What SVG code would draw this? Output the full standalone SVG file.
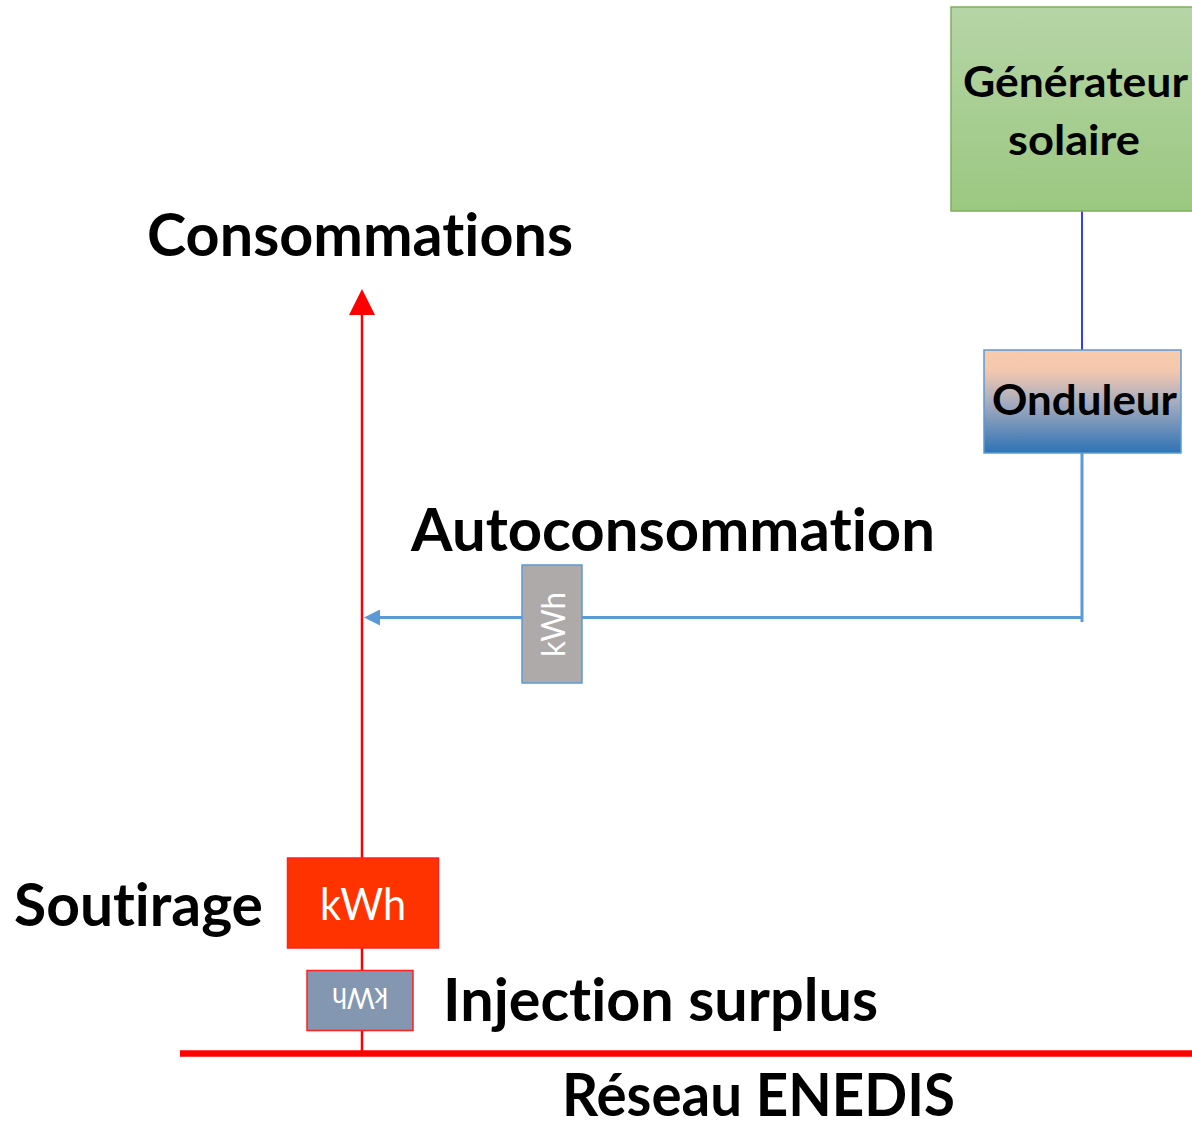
<svg xmlns="http://www.w3.org/2000/svg" width="1192" height="1127" viewBox="0 0 1192 1127">
  <style>
    text { font-variant-ligatures: none; font-feature-settings: "liga" 0, "clig" 0, "dlig" 0; }
    .lbl { font-family: Lato, "Liberation Sans", sans-serif; font-weight: 700; font-size: 59px; fill: #000; }
    .nodelbl { font-family: Lato, "Liberation Sans", sans-serif; font-weight: 700; font-size: 42px; fill: #000; text-anchor: middle; }
    .meter { font-family: Lato, "Liberation Sans", sans-serif; font-weight: 400; fill: #fff; text-anchor: middle; }
  </style>
  <defs>
    <linearGradient id="gGreen" x1="0" y1="0" x2="0" y2="1">
      <stop offset="0" stop-color="#b6d5a6"/>
      <stop offset="1" stop-color="#9bc881"/>
    </linearGradient>
    <linearGradient id="gOnd" x1="0" y1="0" x2="0" y2="1">
      <stop offset="0" stop-color="#f8cbad"/>
      <stop offset="0.2" stop-color="#f4c8ae"/>
      <stop offset="0.5" stop-color="#a9adbe"/>
      <stop offset="1" stop-color="#2e73b5"/>
    </linearGradient>
    <marker id="arrRed" markerUnits="userSpaceOnUse" markerWidth="26" markerHeight="26" refX="15" refY="13" orient="auto">
      <path d="M0,0 L26,13 L0,26 z" fill="#ff0000"/>
    </marker>
    <marker id="arrBlue" markerUnits="userSpaceOnUse" markerWidth="16" markerHeight="16" refX="10" refY="8" orient="auto">
      <path d="M0,0 L16,8 L0,16 z" fill="#5b9bd5"/>
    </marker>
  </defs>

  <g id="connectors" fill="none">
    <line x1="180" y1="1053.5" x2="1192" y2="1053.5" stroke="#ff0000" stroke-width="6.5"/>
    <line x1="362" y1="1053" x2="362" y2="300" stroke="#ff0000" stroke-width="2.5" marker-end="url(#arrRed)"/>
    <line x1="1082" y1="211" x2="1082" y2="350" stroke="#3b3bff" stroke-width="2"/>
    <line x1="1082" y1="453" x2="1082" y2="622" stroke="#5b9bd5" stroke-width="3"/>
    <line x1="1083" y1="617.5" x2="370" y2="617.5" stroke="#5b9bd5" stroke-width="3" marker-end="url(#arrBlue)"/>
  </g>

  <g id="generateur">
    <rect x="951" y="7" width="243" height="204" fill="url(#gGreen)" stroke="#7fae5f" stroke-width="1.5"/>
    <text class="nodelbl" x="1075.5" y="97" textLength="225" lengthAdjust="spacingAndGlyphs">Générateur</text>
    <text class="nodelbl" x="1074" y="155" textLength="132" lengthAdjust="spacingAndGlyphs">solaire</text>
  </g>

  <g id="onduleur">
    <rect x="984" y="350" width="197" height="103" fill="url(#gOnd)" stroke="#5b9bd5" stroke-width="1.5"/>
    <text class="nodelbl" x="1084.5" y="415" textLength="185" lengthAdjust="spacingAndGlyphs">Onduleur</text>
  </g>

  <g id="compteur-autoconso">
    <rect x="522" y="565" width="60" height="118" fill="#aeaaaa" stroke="#5b9bd5" stroke-width="1.5"/>
    <text class="meter" transform="translate(565,624.5) rotate(-90)" x="0" y="0" font-size="33" textLength="65" lengthAdjust="spacingAndGlyphs">kWh</text>
  </g>

  <g id="compteur-soutirage">
    <rect x="287.5" y="858" width="151" height="90" fill="#ff3300" stroke="#ff2020" stroke-width="1.5"/>
    <text class="meter" x="363" y="920" font-size="45" textLength="86" lengthAdjust="spacingAndGlyphs">kWh</text>
  </g>

  <g id="compteur-injection">
    <rect x="307" y="970.5" width="106" height="60" fill="#8497b0" stroke="#ff2020" stroke-width="1.5"/>
    <text class="meter" transform="rotate(180 360 1000)" x="360" y="1012" font-size="28" textLength="56" lengthAdjust="spacingAndGlyphs">kWh</text>
  </g>

  <g id="labels">
    <text class="lbl" x="147" y="256" textLength="426" lengthAdjust="spacingAndGlyphs">Consommations</text>
    <text class="lbl" x="411" y="551" textLength="524" lengthAdjust="spacingAndGlyphs">Autoconsommation</text>
    <text class="lbl" x="14" y="926" textLength="249" lengthAdjust="spacingAndGlyphs">Soutirage</text>
    <text class="lbl" x="443" y="1021" textLength="435" lengthAdjust="spacingAndGlyphs">Injection surplus</text>
    <text class="lbl" x="562" y="1116" textLength="393" lengthAdjust="spacingAndGlyphs">Réseau ENEDIS</text>
  </g>
</svg>
